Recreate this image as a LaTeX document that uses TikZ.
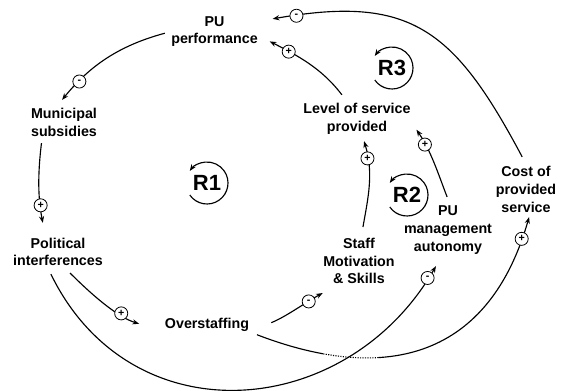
\documentclass[tikz,border=0pt]{standalone}
\usepackage{fontspec}
\setmainfont{Liberation Sans}
\usetikzlibrary{arrows.meta,positioning,calc}

\begin{document}
\begin{tikzpicture}[x=0.75pt, y=0.75pt,
    var/.style={align=center, inner sep=0pt, outer sep=0pt, font=\bfseries\fontsize{10.7}{13.3}\selectfont},
    link/.style={-{Stealth[length=5pt,width=3.8pt]}, line width=0.85pt},
    polsign/.style={circle, draw, fill=white, line width=0.6pt, inner sep=0pt, minimum size=9.8pt, font=\bfseries\fontsize{8}{8}\selectfont},
    loopname/.style={font=\bfseries\fontsize{16.5}{16.5}\selectfont},
    loopmark/.style={-{Stealth[length=5pt,width=3.8pt]}, line width=0.85pt}]
    \useasboundingbox (0,0) rectangle (561,390);

    % Variables
    \node[var] (perf) at (214.5,358.5) {PU\\performance};
    \node[var] (subs) at (64,267.5) {Municipal\\subsidies};
    \node[var] (interf) at (58,138) {Political\\interferences};
    \node[var] (staffing) at (207,65) {Overstaffing};
    \node[var] (motiv) at (359,129) {Staff\\Motivation\\\& Skills};
    \node[var] (autonomy) at (448,160) {PU\\management\\autonomy};
    \node[var] (service) at (357,271) {Level of service\\provided};
    \node[var] (cost) at (526,200.7) {Cost of\\provided\\service};

    % Loop markers
    \node[loopname] (r1) at (207,207) {R1};
    \node[loopname] (r2) at (407,195) {R2};
    \node[loopname] (r3) at (392,322) {R3};
    \draw[loopmark] ([shift={(215:21)}]r1.center) arc[start angle=215, end angle=505, radius=21];
    \draw[loopmark] ([shift={(215:21)}]r2.center) arc[start angle=215, end angle=505, radius=21];
    \draw[loopmark] ([shift={(215:21)}]r3.center) arc[start angle=215, end angle=505, radius=21];

    % Outer loop
    \draw[link, shorten <=5pt, shorten >=8.2pt] (perf.west) to[out=195, in=51]
        node[polsign, pos=0.76] (s1) {-} (subs.122);
    \draw[link, shorten <=4.9pt, shorten >=11.5pt] (subs.213) to[out=263, in=101]
        node[polsign, pos=0.69] (s2) {+} (interf.131);
    \draw[link, shorten <=7.4pt, shorten >=20.3pt] (interf.290) to[out=315, in=163]
        node[polsign, pos=0.62] (s3) {+} (staffing.south west);
    \draw[link, shorten <=18pt, shorten >=14pt] (staffing.south east) to[out=22, in=209]
        node[polsign, pos=0.67] (s5) {-} (motiv.229);
    \draw[link, shorten <=8.4pt, shorten >=5.2pt] (motiv.85) to[out=80, in=287]
        node[polsign, pos=0.78] (s7) {+} (service.288);
    \draw[link, shorten <=7.2pt, shorten >=8pt] (autonomy.84) to[out=111, in=304]
        node[polsign, pos=0.72] (s8) {+} (service.358);
    \draw[link, shorten <=8.1pt, shorten >=10.1pt] (service.119) to[out=127, in=333]
        node[polsign, pos=0.71] (s9) {+} (perf.355);
    \draw[link, shorten <=8pt, shorten >=11.4pt] (cost.87) to[out=118, in=10, looseness=1.3]
        node[polsign, pos=0.91] (s10) {-} (perf.13);

    % Cost link, dotted where it passes under
    \draw[link, shorten <=6.4pt, shorten >=3.75pt] (staffing.south east) to[out=339, in=254, looseness=1.25]
        node[polsign, pos=0.935] (s6) {+} (cost.281);
    \begin{scope}
        \clip (323,15) rectangle (378,50);
        \draw[link, white, line width=2.5pt, shorten <=6.4pt, shorten >=3.75pt] (staffing.south east) to[out=339, in=254, looseness=1.25] (cost.281);
        \draw[link, densely dotted, shorten <=6.4pt, shorten >=3.75pt] (staffing.south east) to[out=339, in=254, looseness=1.25] (cost.281);
    \end{scope}

    % Autonomy link
    \draw[link, shorten <=6.7pt, shorten >=10.4pt] (interf.232) to[out=296, in=240, looseness=1.24]
        node[polsign, pos=0.95] (s4) {-} (autonomy.258);
\end{tikzpicture}
\end{document}
